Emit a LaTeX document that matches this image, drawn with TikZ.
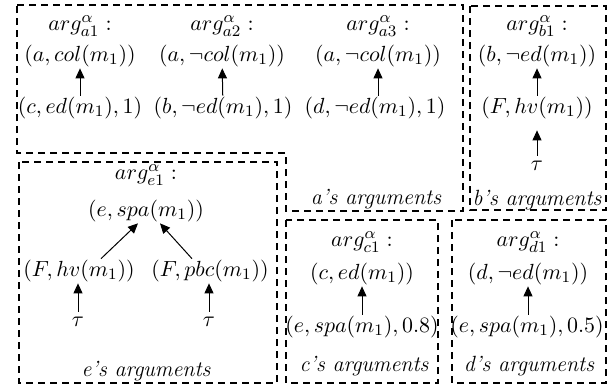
\documentclass[tikz,border=0pt]{standalone}
\usetikzlibrary{arrows.meta}
\begin{document}
\begin{tikzpicture}[x=0.5pt, y=-0.5pt,
    frame/.style={draw, line width=0.8pt, dash pattern=on 3.5pt off 2.5pt},
    txt/.style={inner sep=0.5pt, font=\fontsize{11}{13}\selectfont},
    root/.style={txt, inner sep=2.5pt},
    title/.style={inner sep=0.5pt, font=\fontsize{11}{13}\selectfont\itshape},
    supp/.style={-{Triangle[length=5pt,width=4.5pt]}, line width=0.5pt}]
    \useasboundingbox (0,0) rectangle (614,388);

    % Frames
    \draw[frame] (17,5) -- (463,5) -- (463,211) -- (286,211) -- (286,153) -- (17,153) -- cycle;
    \draw[frame] (470,6) rectangle (606,210);
    \draw[frame] (19,162) rectangle (277,383);
    \draw[frame] (286,220) rectangle (438,383);
    \draw[frame] (452,220) rectangle (606,383);

    % a's arguments
    \node[txt] (a1n) at (80,26) {$arg^{\alpha}_{a1}:$};
    \node[txt] (a1c) at (80,56) {$(a, col(m_1))$};
    \node[txt] (a1s) at (80,108) {$(c, ed(m_1), 1)$};
    \node[txt] (a2n) at (222,26) {$arg^{\alpha}_{a2}:$};
    \node[txt] (a2c) at (222,56) {$(a, \neg col(m_1))$};
    \node[txt] (a2s) at (223,108) {$(b, \neg ed(m_1), 1)$};
    \node[txt] (a3n) at (378,26) {$arg^{\alpha}_{a3}:$};
    \node[txt] (a3c) at (378,56) {$(a, \neg col(m_1))$};
    \node[txt] (a3s) at (375,108) {$(d, \neg ed(m_1), 1)$};
    \node[title] (at) at (376,199) {a's arguments};
    \draw[supp] (a1s.north -| a1c.south) -- (a1c.south);
    \draw[supp] (a2s) -- (a2c);
    \draw[supp] (a3s.north -| a3c.south) -- (a3c.south);

    % b's arguments
    \node[txt] (b1n) at (537,26) {$arg^{\alpha}_{b1}:$};
    \node[txt] (b1c) at (537,56) {$(b, \neg ed(m_1))$};
    \node[txt] (bhv) at (537,108) {$(F, hv(m_1))$};
    \node[root] (btau) at (537,166) {$\tau$};
    \node[title] (bt) at (537,200) {b's arguments};
    \draw[supp] (bhv) -- (b1c);
    \draw[supp, shorten >=5pt] (btau) -- (bhv);

    % e's arguments
    \node[txt] (e1n) at (146,175) {$arg^{\alpha}_{e1}:$};
    \node[txt] (e1c) at (146,211) {$(e, spa(m_1))$};
    \node[txt] (ehv) at (79,271) {$(F, hv(m_1))$};
    \node[txt] (epbc) at (210,271) {$(F, pbc(m_1))$};
    \node[root] (etau1) at (78,322) {$\tau$};
    \node[root] (etau2) at (209,322) {$\tau$};
    \node[title] (et) at (146,371) {e's arguments};
    \draw[supp] ([xshift=11pt]ehv.north) -- ([xshift=-4pt]e1c.south);
    \draw[supp] ([xshift=-9pt]epbc.north) -- ([xshift=7pt]e1c.south);
    \draw[supp] (etau1.north) -- (etau1.north |- ehv.south);
    \draw[supp] (etau2.north) -- (etau2.north |- epbc.south);

    % c's arguments
    \node[txt] (c1n) at (362,242) {$arg^{\alpha}_{c1}:$};
    \node[txt] (c1c) at (362,274) {$(c, ed(m_1))$};
    \node[txt] (c1s) at (362,327) {$(e, spa(m_1), 0.8)$};
    \node[title] (ct) at (364,366) {c's arguments};
    \draw[supp] (c1s.north -| c1c.south) -- (c1c.south);

    % d's arguments
    \node[txt] (d1n) at (528,242) {$arg^{\alpha}_{d1}:$};
    \node[txt] (d1c) at (528,274) {$(d, \neg ed(m_1))$};
    \node[txt] (d1s) at (527,327) {$(e, spa(m_1), 0.5)$};
    \node[title] (dt) at (529,366) {d's arguments};
    \draw[supp] (d1s.north -| d1c.south) -- (d1c.south);
\end{tikzpicture}
\end{document}
